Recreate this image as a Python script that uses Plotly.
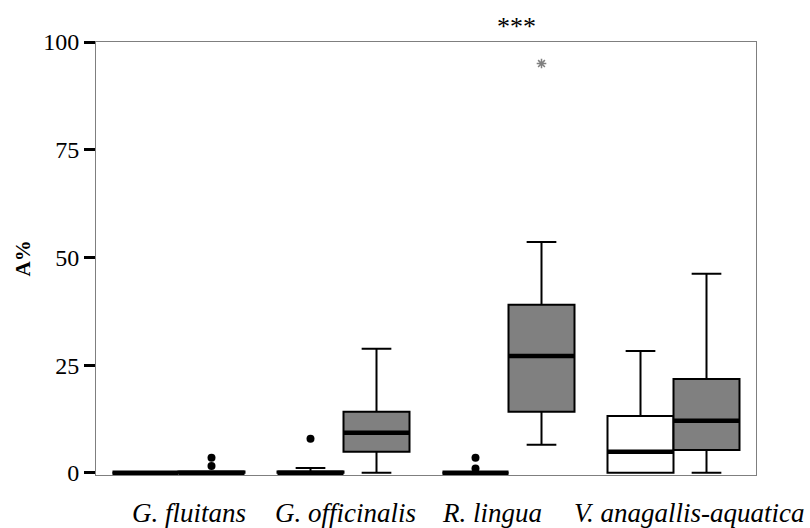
import plotly.graph_objects as go

# ---------------- data ----------------
categories = ["G. fluitans", "G. officinalis", "R. lingua", "V. anagallis-aquatica"]

# white boxes (first series)
white_lower = [0, 0, 0, 0]
white_q1 = [0, 0, 0, 0]
white_median = [0, 0, 0, 4.9]
white_q3 = [0, 0.3, 0, 13.2]
white_upper = [0, 1.1, 0, 28.3]

# grey boxes (second series)
grey_lower = [0, 0, 6.5, 0]
grey_q1 = [0, 4.9, 14.2, 5.3]
grey_median = [0, 9.3, 27.1, 12.1]
grey_q3 = [0.3, 14.2, 39.0, 21.8]
grey_upper = [0.3, 28.8, 53.6, 46.2]

# outliers: (category index, value)
white_out_cat = [1, 2, 2]
white_out_val = [7.9, 3.5, 1.0]
grey_out_cat = [0, 0]
grey_out_val = [3.5, 1.6]
grey_extreme_cat = [2]
grey_extreme_val = [95]

y_ticks = [0, 25, 50, 75, 100]
signif_text = "***"

SERIF = "Liberation Serif"

# ---------------- layout constants ----------------
BOX_W = 0.4
OFFSET = 0.2
LABEL_SHIFT = [10, 2, -17, 16]   # horizontal nudge of category labels (px)
pos = [i + 0.5 for i in range(len(categories))]
white_x = [p - OFFSET for p in pos]
grey_x = [p + OFFSET for p in pos]

fig = go.Figure()

def add_box(xs, lo, q1, med, q3, hi, fill):
    fig.add_trace(go.Box(
        x=xs, lowerfence=lo, q1=q1, median=med, q3=q3, upperfence=hi,
        width=BOX_W, whiskerwidth=0.45, fillcolor=fill,
        line=dict(color="black", width=2), boxpoints=False,
        showlegend=False, hoverinfo="skip"))

add_box(white_x, white_lower, white_q1, white_median, white_q3, white_upper, "white")
add_box(grey_x, grey_lower, grey_q1, grey_median, grey_q3, grey_upper, "#808080")

# thick medians
for xs, med in ((white_x, white_median), (grey_x, grey_median)):
    for xc, m in zip(xs, med):
        fig.add_shape(type="line", xref="x", yref="y",
                      x0=xc - BOX_W / 2, x1=xc + BOX_W / 2, y0=m, y1=m,
                      line=dict(color="black", width=4.5))

# outliers
fig.add_trace(go.Scatter(
    x=[white_x[c] for c in white_out_cat], y=white_out_val, mode="markers",
    marker=dict(symbol="circle", size=8, color="black"),
    showlegend=False, hoverinfo="skip", cliponaxis=False))
fig.add_trace(go.Scatter(
    x=[grey_x[c] for c in grey_out_cat], y=grey_out_val, mode="markers",
    marker=dict(symbol="circle", size=8, color="black"),
    showlegend=False, hoverinfo="skip", cliponaxis=False))
fig.add_trace(go.Scatter(
    x=[grey_x[c] for c in grey_extreme_cat], y=grey_extreme_val, mode="markers",
    marker=dict(symbol="asterisk-open", size=8, color="#808080",
                line=dict(color="#808080", width=1.5)),
    showlegend=False, hoverinfo="skip", cliponaxis=False))

fig.update_layout(
    width=810, height=528,
    margin=dict(l=96, r=54, t=42, b=53),
    plot_bgcolor="white", paper_bgcolor="white",
    boxmode="overlay",
    font=dict(family=SERIF, color="black"),
)

fig.update_xaxes(
    range=[0, len(categories)],
    tickmode="array", tickvals=pos, showticklabels=False,
    ticks="", automargin=False,
    showline=True, linecolor="#7f7f7f", linewidth=1, mirror=True,
    showgrid=False, zeroline=False,
)
fig.update_yaxes(
    range=[-0.5, 100], automargin=False,
    tickmode="array", tickvals=y_ticks,
    tickfont=dict(family=SERIF, size=24, color="black"),
    ticks="outside", ticklen=11, tickwidth=3, tickcolor="black",
    showline=True, linecolor="#7f7f7f", linewidth=1, mirror=True,
    showgrid=False, zeroline=False,
)

# category labels
for p, name, dx in zip(pos, categories, LABEL_SHIFT):
    fig.add_annotation(
        text=name, xref="x", yref="paper", x=p, y=0,
        xshift=dx, yshift=-38, xanchor="center", yanchor="middle",
        showarrow=False,
        font=dict(family=SERIF, size=27, style="italic", color="black"))

fig.add_annotation(
    text="<b>A%</b>", xref="paper", yref="paper",
    x=(22 - 96) / 660, y=0.5, xanchor="center", yanchor="middle",
    textangle=-90, showarrow=False,
    font=dict(family=SERIF, size=21, color="black"))

fig.add_annotation(
    text=signif_text, xref="paper", yref="paper",
    x=(516 - 96) / 660, y=1.0, yshift=16, xanchor="center", yanchor="middle",
    showarrow=False,
    font=dict(family=SERIF, size=26, color="black"))

fig.write_html("out.html")
